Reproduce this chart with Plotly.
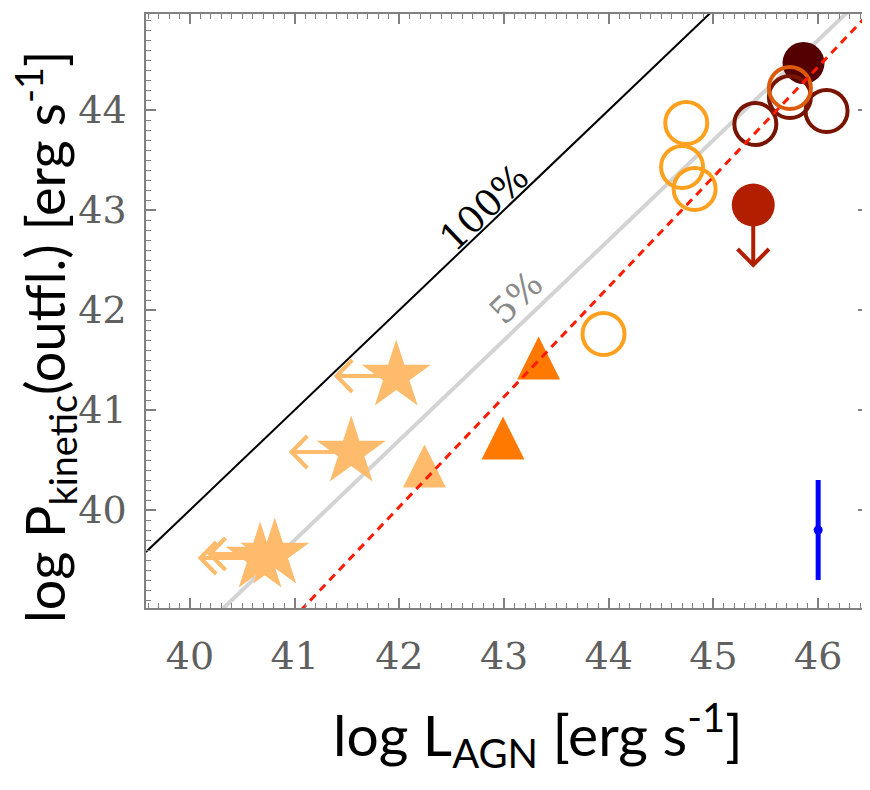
import numpy as np
import plotly.graph_objects as go

# ---------------- data ----------------
star_x = [41.97, 41.54, 40.67, 40.81]
star_y = [41.34, 40.58, 39.52, 39.56]
star_limit_x = [41.40, 40.97, 40.10, 40.19]   # upper limits on L_AGN (arrow tips)

tri_light_x = [42.24]
tri_light_y = [40.44]
tri_dark_x = [43.33, 42.99]
tri_dark_y = [41.52, 40.72]

orange_open_x = [44.74, 44.70, 44.82, 43.95]
orange_open_y = [43.87, 43.43, 43.21, 41.76]

darkred_open_x = [45.40, 45.73, 46.08]
darkred_open_y = [43.86, 44.13, 43.99]

darkorange_open_x = [45.73]
darkorange_open_y = [44.22]

darkfill_x = [45.86]
darkfill_y = [44.47]

redfill_x = [45.38]
redfill_y = [43.05]
redfill_limit_y = [42.45]   # upper limit on P_kin (arrow tip)

err_x = [46.0]
err_y = [39.8]
err_size = [0.5]

eff_fracs = [1.0, 0.05]          # 100% and 5% coupling lines
eff_labels = ["100%", "5%"]
fit_slope = 1.1
fit_intercept = -6.168

x_ticks = [40, 41, 42, 43, 44, 45, 46]
y_ticks = [40, 41, 42, 43, 44]

XR = [39.58, 46.476]
YR = [39.02, 44.96]

# ---------------- colours ----------------
C_LIGHT = "#FDBB6B"
C_TRI = "#FF7800"
C_ORANGE = "#FFA01E"
C_DARKRED = "#781400"
C_DARKORANGE = "#DC5A0A"
C_DARKFILL = "#550000"
C_RED = "#B21E00"

# arrow-head arm extents (data units, ~16 px each way)
AHX, AHY = 0.15, 0.16

fig = go.Figure()

xl = np.array(XR)
# 100% line
fig.add_trace(go.Scatter(x=xl, y=xl + np.log10(eff_fracs[0]), mode="lines",
                         line=dict(color="black", width=2), hoverinfo="skip"))
# 5% line
fig.add_trace(go.Scatter(x=xl, y=xl + np.log10(eff_fracs[1]), mode="lines",
                         line=dict(color="#D3D3D3", width=4), hoverinfo="skip"))

# left-pointing limit arrows for the stars
ax_, ay_ = [], []
for sx, sy, lx in zip(star_x, star_y, star_limit_x):
    ax_ += [sx, lx, None, lx + AHX, lx, lx + AHX, None]
    ay_ += [sy, sy, None, sy + AHY, sy, sy - AHY, None]
fig.add_trace(go.Scatter(x=ax_, y=ay_, mode="lines", line=dict(color=C_LIGHT, width=4),
                         hoverinfo="skip"))

# stars
fig.add_trace(go.Scatter(x=star_x, y=star_y, mode="markers",
                         marker=dict(symbol="star", size=52, color=C_LIGHT, line=dict(width=0))))

# triangles as polygons
HW, HH = 0.205, 0.215
def tri_poly(xs, ys):
    px, py = [], []
    for x, y in zip(xs, ys):
        px += [x - HW, x + HW, x, x - HW, None]
        py += [y - HH, y - HH, y + HH, y - HH, None]
    return px, py

px, py = tri_poly(tri_light_x, tri_light_y)
fig.add_trace(go.Scatter(x=px, y=py, mode="lines", fill="toself", fillcolor=C_LIGHT,
                         line=dict(width=0, color=C_LIGHT)))
px, py = tri_poly(tri_dark_x, tri_dark_y)
fig.add_trace(go.Scatter(x=px, y=py, mode="lines", fill="toself", fillcolor=C_TRI,
                         line=dict(width=0, color=C_TRI)))

def open_circles(xs, ys, color):
    return go.Scatter(x=xs, y=ys, mode="markers",
                      marker=dict(symbol="circle-open", size=42, color=color,
                                  line=dict(width=4, color=color)))

# circles
fig.add_trace(open_circles(orange_open_x, orange_open_y, C_ORANGE))
fig.add_trace(go.Scatter(x=darkfill_x, y=darkfill_y, mode="markers",
                         marker=dict(symbol="circle", size=42, color=C_DARKFILL, line=dict(width=0))))
fig.add_trace(open_circles(darkred_open_x, darkred_open_y, C_DARKRED))
fig.add_trace(open_circles(darkorange_open_x, darkorange_open_y, C_DARKORANGE))

# downward limit arrow for the red point
rx_, ry_ = [], []
for rx, ry, ly in zip(redfill_x, redfill_y, redfill_limit_y):
    rx_ += [rx, rx, None, rx - AHX, rx, rx + AHX, None]
    ry_ += [ry, ly, None, ly + AHY, ly, ly + AHY, None]
fig.add_trace(go.Scatter(x=rx_, y=ry_, mode="lines", line=dict(color=C_RED, width=4),
                         hoverinfo="skip"))
fig.add_trace(go.Scatter(x=redfill_x, y=redfill_y, mode="markers",
                         marker=dict(symbol="circle", size=43, color=C_RED, line=dict(width=0))))

# red dashed relation
fig.add_trace(go.Scatter(x=xl, y=fit_slope * xl + fit_intercept, mode="lines",
                         line=dict(color="#FF1A00", width=3, dash="8px,6px"), hoverinfo="skip"))

# error bar
fig.add_trace(go.Scatter(x=err_x, y=err_y, mode="markers",
                         marker=dict(size=9, color="#0000FF"),
                         error_y=dict(type="data", array=err_size, color="#0000FF",
                                      thickness=5, width=0)))

annotations = []
# line labels
annotations.append(dict(x=42.81, y=43.03, xref="x", yref="y", text=eff_labels[0], showarrow=False,
                        textangle=-43.7, font=dict(family="DejaVu Serif", size=37, color="black")))
annotations.append(dict(x=43.11, y=42.13, xref="x", yref="y", text=eff_labels[1], showarrow=False,
                        textangle=-43.7, font=dict(family="DejaVu Serif", size=36, color="#8a8a8a")))

# axis titles
annotations.append(dict(x=0.543, y=-0.2125, xref="paper", yref="paper", xanchor="center", yanchor="middle",
                        text="log L<sub>AGN</sub> [erg s<sup>-1</sup>]", showarrow=False,
                        font=dict(family="Lato", size=57, color="black")))
annotations.append(dict(x=-0.14, y=0.456, xref="paper", yref="paper", xanchor="center", yanchor="middle",
                        text="log P<sub>kinetic</sub>(outfl.) [erg s<sup>-1</sup>]", showarrow=False,
                        textangle=-90, font=dict(family="Lato", size=54, color="black")))

axis_common = dict(showgrid=False, zeroline=False, showline=True, linecolor="#808080", linewidth=1.5,
                   mirror="ticks", ticks="inside", ticklen=10, tickwidth=1.5, tickcolor="#808080",
                   tick0=40, dtick=1,
                   tickfont=dict(family="DejaVu Serif", size=38, color="#606060"),
                   minor=dict(ticks="inside", ticklen=5, tickwidth=1.2, tickcolor="#808080",
                              tick0=40, dtick=0.1, showgrid=False))

fig.update_xaxes(range=XR, tickvals=x_ticks, ticklabelstandoff=14, **axis_common)
fig.update_yaxes(range=YR, tickvals=y_ticks, ticklabelstandoff=10, **axis_common)

# page body adds an 8px offset, so margins are shifted to keep the plot frame in place
fig.update_layout(width=870, height=790, margin=dict(l=138, r=10, t=6, b=190, autoexpand=False),
                  plot_bgcolor="white", paper_bgcolor="white", showlegend=False,
                  annotations=annotations)

fig.write_html("out.html")
